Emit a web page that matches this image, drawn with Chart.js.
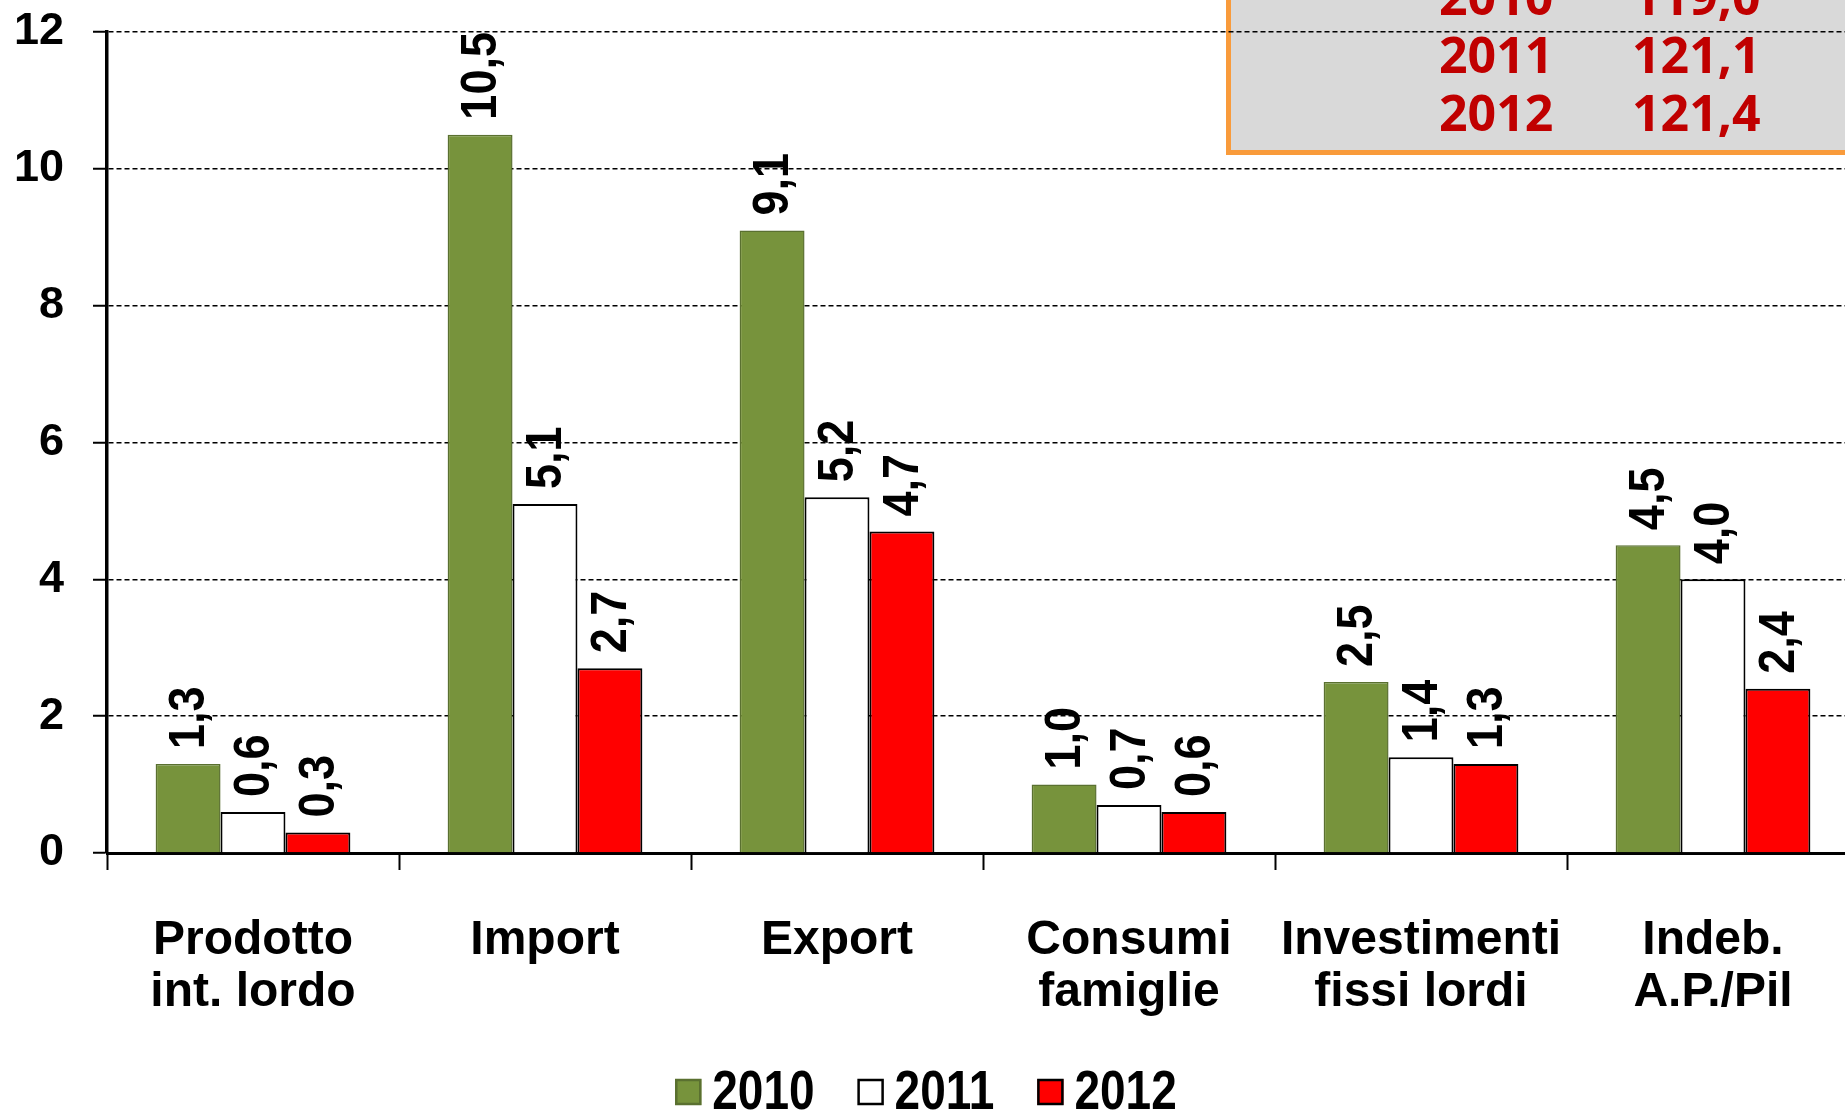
<!DOCTYPE html>
<html>
<head>
<meta charset="utf-8">
<script src="https://cdn.jsdelivr.net/npm/chart.js@4.4.1/dist/chart.umd.min.js"></script>
<style>
  html, body { margin: 0; padding: 0; overflow: hidden; background: #fff; width: 1845px; height: 1113px; }
  #wrap { position: absolute; left: 0; top: 0; width: 1859px; height: 1113px; }
</style>
</head>
<body>
<div id="wrap"><canvas id="chart" width="1859" height="1113"></canvas></div>
<script>
// categories and series
const categories = [
  ['Prodotto', 'int. lordo'],
  ['Import'],
  ['Export'],
  ['Consumi', 'famiglie'],
  ['Investimenti', 'fissi lordi'],
  ['Indeb.', 'A.P./Pil']
];
const seriesNames = ['2010', '2011', '2012'];
const values2010 = [1.3, 10.5, 9.1, 1.0, 2.5, 4.5];
const values2011 = [0.6, 5.1, 5.2, 0.7, 1.4, 4.0];
const values2012 = [0.3, 2.7, 4.7, 0.6, 1.3, 2.4];
const yMin = 0, yMax = 12, yStep = 2;

// the grey box in the top right corner
const boxYears = ['2010', '2011', '2012'];
const boxValues = ['119,0', '121,1', '121,4'];

const FONT = '"Liberation Sans", Arial, sans-serif';
const BOXFONT = '"Open Sans", "Liberation Sans", sans-serif';

const fmt = v => v.toFixed(1).replace('.', ',');

// grey box with orange border, drawn under the grid
const debtBox = {
  id: 'debtBox',
  beforeDraw(chart) {
    const ctx = chart.ctx;
    ctx.save();
    ctx.fillStyle = '#D9D9D9';
    ctx.fillRect(1226, -10, 700, 163);
    ctx.strokeStyle = '#F99B3B';
    ctx.lineWidth = 5;
    ctx.strokeRect(1228.5, -10, 700, 162.5);
    ctx.fillStyle = '#C00000';
    ctx.font = 'bold 50px ' + BOXFONT;
    ctx.textBaseline = 'middle';
    ctx.textAlign = 'left';
    boxYears.forEach((y, i) => {
      ctx.fillText(y, 1439, 58 * i + 1);
      ctx.fillText(boxValues[i], 1632, 58 * i + 1);
    });
    ctx.restore();
  }
};

// rotated value labels above the bars
const valueLabels = {
  id: 'valueLabels',
  afterDatasetsDraw(chart) {
    const ctx = chart.ctx;
    ctx.save();
    ctx.font = 'bold 45px ' + FONT;
    ctx.fillStyle = '#000';
    ctx.textAlign = 'left';
    ctx.textBaseline = 'middle';
    chart.data.datasets.forEach((ds, di) => {
      chart.getDatasetMeta(di).data.forEach((bar, i) => {
        ctx.save();
        ctx.translate(bar.x + 2, bar.y - 15);
        ctx.rotate(-Math.PI / 2);
        ctx.scale(1, 1.12);
        ctx.fillText(fmt(ds.data[i]), 0, 0);
        ctx.restore();
      });
    });
    ctx.restore();
  }
};

// legend at the bottom: square box, narrow gap, tall bold text
const bottomLegend = {
  id: 'bottomLegend',
  afterDraw(chart) {
    const ctx = chart.ctx;
    const box = 26, gap = 11, spacing = 43, cy = 1092, cx = 926;
    ctx.save();
    ctx.font = 'bold 46px ' + FONT;
    const items = chart.data.datasets.map(ds => ({ ds, w: ctx.measureText(ds.label).width }));
    const total = items.reduce((s, it) => s + box + gap + it.w, 0) + spacing * (items.length - 1);
    let x = cx - total / 2;
    items.forEach(({ ds, w }) => {
      ctx.fillStyle = ds.backgroundColor;
      ctx.fillRect(x, cy - box / 2, box, box);
      ctx.strokeStyle = ds.borderColor;
      ctx.lineWidth = 2.5;
      ctx.strokeRect(x + 1, cy - box / 2 + 1, box - 2, box - 2);
      ctx.save();
      ctx.translate(x + box + gap, cy + 2);
      ctx.scale(1, 1.2);
      ctx.fillStyle = '#000';
      ctx.textBaseline = 'middle';
      ctx.fillText(ds.label, 0, 0);
      ctx.restore();
      x += box + gap + w + spacing;
    });
    ctx.restore();
  }
};

const ctx = document.getElementById('chart').getContext('2d');
new Chart(ctx, {
  type: 'bar',
  data: {
    labels: categories,
    datasets: [
      { label: seriesNames[0], data: values2010, backgroundColor: '#77933C', borderColor: '#5A7030', borderWidth: 1.5 },
      { label: seriesNames[1], data: values2011, backgroundColor: '#FFFFFF', borderColor: '#000000', borderWidth: 2 },
      { label: seriesNames[2], data: values2012, backgroundColor: '#FF0000', borderColor: '#000000', borderWidth: 2 }
    ]
  },
  options: {
    responsive: false,
    animation: false,
    devicePixelRatio: 1,
    categoryPercentage: 0.667,
    barPercentage: 1.0,
    layout: { padding: { top: 32, left: 0, right: 0, bottom: 80 } },
    plugins: {
      legend: { display: false },
      tooltip: { enabled: false }
    },
    scales: {
      x: {
        grid: { offset: true, drawOnChartArea: false, tickLength: 17, tickWidth: 2, tickColor: '#000' },
        border: { color: '#000', width: 3 },
        ticks: {
          color: '#000', padding: 44, maxRotation: 0, autoSkip: false,
          font: { family: FONT, size: 48, weight: 'bold', lineHeight: 1.1 }
        },
        afterFit: s => { s.height = 180; }
      },
      y: {
        min: yMin, max: yMax,
        grid: {
          color: c => (c.tick && c.tick.value === 0) ? 'rgba(0,0,0,0)' : '#000',
          lineWidth: 1.5, tickLength: 14, tickWidth: 2, tickColor: '#000'
        },
        border: { color: '#000', width: 3.5, dash: [5, 3] },
        ticks: {
          stepSize: yStep, color: '#000', padding: 29,
          font: { family: FONT, size: 45, weight: 'bold' }
        },
        afterFit: s => { s.width = 107; s.paddingTop = 0; s.paddingBottom = 0; }
      }
    }
  },
  plugins: [debtBox, valueLabels, bottomLegend]
});
</script>
</body>
</html>
